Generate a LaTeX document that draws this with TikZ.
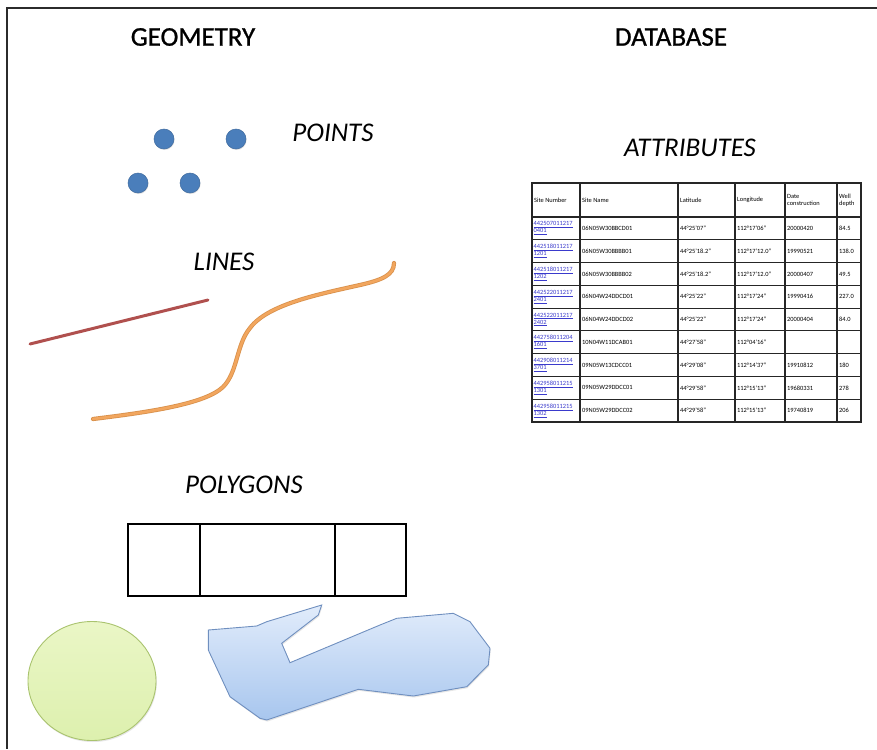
\documentclass[tikz,border=0pt]{standalone}
\usepackage{fontspec}
\setmainfont{Carlito}
\newfontfamily\titlefont[FakeBold=0.9]{Carlito}
\usetikzlibrary{shadows}
\definecolor{framec}{HTML}{2B2B2B}
\definecolor{ptblue}{HTML}{4A7EBB}
\definecolor{redline}{HTML}{B0504E}
\definecolor{orangeline}{HTML}{F2A65E}
\definecolor{orangeedge}{HTML}{D8914C}
\definecolor{greenfill}{HTML}{EAF6C6}
\definecolor{greenfillb}{HTML}{DDF0AE}
\definecolor{greenedge}{HTML}{A9C36E}
\definecolor{bluefillt}{HTML}{E1ECFB}
\definecolor{bluefillb}{HTML}{A8C6EE}
\definecolor{blueedge}{HTML}{6F8FBF}
\definecolor{linkblue}{HTML}{3A3ACC}
\tikzset{
  title/.style={font=\titlefont\fontsize{27}{30}\selectfont, inner sep=0pt},
  subtitle/.style={font=\fontsize{27}{30}\selectfont\itshape, inner sep=0pt},
  dot/.style={circle, fill=ptblue, draw=ptblue!85!black, line width=0.5pt, minimum size=20pt, inner sep=0pt, drop shadow={shadow xshift=0.6pt, shadow yshift=-1pt, opacity=0.25}},
  cell/.style={anchor=west, inner sep=0pt, align=left, font=\fontsize{6.4}{7}\selectfont},
  link/.style={cell, text=linkblue},
  grid/.style={draw=black!85, line width=1.1pt},
}
\begin{document}
\begin{tikzpicture}[x=1pt,y=-1pt]
\useasboundingbox (0,0) rectangle (877,749);
% frame
\draw[framec, line width=1.6pt] (877,8) -- (7,8) -- (7,749);
% titles
\node[title] (geo) at (193,37) {GEOMETRY};
\node[title] (db) at (671,37) {DATABASE};
\node[subtitle] (pts) at (333,133) {POINTS};
\node[subtitle] (attr) at (690,148) {ATTRIBUTES};
\node[subtitle] (lns) at (224,262) {LINES};
\node[subtitle] (poly) at (244,485) {POLYGONS};
% points
\node[dot] (p1) at (164,139) {};
\node[dot] (p2) at (236,139) {};
\node[dot] (p3) at (138,183) {};
\node[dot] (p4) at (190,183) {};
% lines
\draw[redline, line width=3pt, line cap=round] (30,344) -- (208,300);
\draw[orangeedge, line width=4.2pt, line cap=round]
  (93,419) .. controls (150,412) and (205,404) .. (223,387)
  .. controls (238,372) and (236,345) .. (250,328)
  .. controls (268,304) and (320,294) .. (360,285)
  .. controls (382,280) and (394,275) .. (394,263);
\draw[orangeline, line width=2.6pt, line cap=round]
  (93,419) .. controls (150,412) and (205,404) .. (223,387)
  .. controls (238,372) and (236,345) .. (250,328)
  .. controls (268,304) and (320,294) .. (360,285)
  .. controls (382,280) and (394,275) .. (394,263);
% rectangle polygons
\draw[black, line width=2pt] (128,524) rectangle (406,596);
\draw[black, line width=2pt] (199.5,524) -- (199.5,596);
\draw[black, line width=2pt] (335,524) -- (335,596);
% circle polygon
\shade[top color=greenfill, bottom color=greenfillb, draw=greenedge, line width=0.9pt,
  drop shadow={shadow xshift=0.8pt, shadow yshift=-1.5pt, opacity=0.2}]
  (92,681) ellipse [x radius=64, y radius=59.5];
% blue polygon
\shade[top color=bluefillt, bottom color=bluefillb, draw=blueedge, line width=0.9pt,
  drop shadow={shadow xshift=0.8pt, shadow yshift=-1.5pt, opacity=0.2}]
  (208.3,630) -- (256.7,626) -- (266.7,621.7) -- (321.7,605) -- (318.3,615)
  -- (281.7,643.3) -- (290,662.7) -- (380,625) -- (396.7,618.3) -- (453.3,613.3)
  -- (470,621.7) -- (490,648.3) -- (488.3,665) -- (466.7,686.7) -- (413.3,696)
  -- (358.3,689.3) -- (266.7,720) -- (260,718.3) -- (230,696.7) -- (208.3,650) -- cycle;
% table
\fill[white] (532,183) rectangle (861,422);
\foreach \xx in {580,678,735,785,837} \draw[grid] (\xx,183) -- (\xx,422);
\draw[grid] (532,217) -- (861,217);
\foreach \i in {1,...,8} \draw[grid] (532,{217+22.78*\i}) -- (861,{217+22.78*\i});
\draw[black!85, line width=1.5pt] (532,183) rectangle (861,422);
% header
\node[cell] (h1) at (534,200) {Site Number};
\node[cell] (h2) at (582,200) {Site Name};
\node[cell] (h3) at (680,200) {Latitude};
\node[cell] (h4) at (737,200) {Longitude};
\node[cell] (h5) at (787,200) {Date\\construction};
\node[cell] (h6) at (839,200) {Well\\depth};
% rows
\foreach \ri/\sA/\sB/\nM/\lA/\lO/\dT/\wD in {
 1/442507011217/0401/06N05W30BBCD01/44°25'07"/112°17'06"/20000420/84.5,
 2/442518011217/1201/06N05W30BBBB01/44°25'18.2"/112°17'12.0"/19990521/138.0,
 3/442518011217/1202/06N05W30BBBB02/44°25'18.2"/112°17'12.0"/20000407/49.5,
 4/442522011217/2401/06N04W24DDCD01/44°25'22"/112°17'24"/19990416/227.0,
 5/442522011217/2402/06N04W24DDCD02/44°25'22"/112°17'24"/20000404/84.0,
 6/442758011204/1601/10N04W11DCAB01/44°27'58"/112°04'16"/ / ,
 7/442908011214/3701/09N05W13CDCC01/44°29'08"/112°14'37"/19910812/180,
 8/442958011215/1301/09N05W29DDCC01/44°29'58"/112°15'13"/19680331/278,
 9/442958011215/1302/09N05W29DDCC02/44°29'58"/112°15'13"/19740819/206}{
  \pgfmathsetmacro{\yy}{217+22.78*(\ri-0.5)}
  \node[link] (s\ri) at (533.5,\yy) {\underline{\sA}\\\underline{\sB}};
  \node[cell] (n\ri) at (582,\yy) {\nM};
  \node[cell] (la\ri) at (680,\yy) {\lA};
  \node[cell] (lo\ri) at (737,\yy) {\lO};
  \node[cell] (d\ri) at (787,\yy) {\dT};
  \node[cell] (w\ri) at (839,\yy) {\wD};
}
\end{tikzpicture}
\end{document}
